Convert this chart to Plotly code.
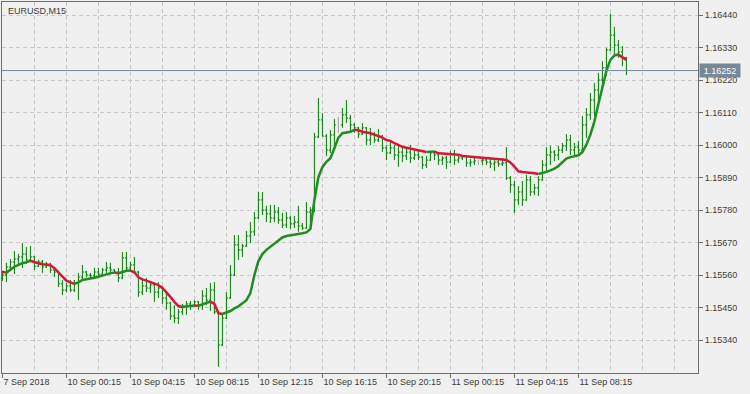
import plotly.graph_objects as go

symbol_title = "EURUSD,M15"

open_ = [1.15546, 1.15560, 1.15587, 1.15604, 1.15614, 1.15621, 1.15631, 1.15611, 1.15621, 1.15590,
         1.15604, 1.15587, 1.15597, 1.15577, 1.15570, 1.15530, 1.15509, 1.15523, 1.15509, 1.15533,
         1.15553, 1.15570, 1.15560, 1.15557, 1.15570, 1.15563, 1.15577, 1.15584, 1.15577, 1.15570,
         1.15550, 1.15618, 1.15584, 1.15594, 1.15570, 1.15502, 1.15523, 1.15516, 1.15526, 1.15502,
         1.15516, 1.15482, 1.15465, 1.15421, 1.15414, 1.15435, 1.15455, 1.15462, 1.15455, 1.15469,
         1.15458, 1.15489, 1.15475, 1.15509, 1.15435, 1.15323, 1.15414, 1.15482, 1.15560, 1.15662,
         1.15645, 1.15658, 1.15692, 1.15706, 1.15753, 1.15814, 1.15780, 1.15767, 1.15753, 1.15773,
         1.15746, 1.15729, 1.15753, 1.15733, 1.15739, 1.15726, 1.15719, 1.15773, 1.15780, 1.16027,
         1.16085, 1.16030, 1.15983, 1.16034, 1.16068, 1.16068, 1.16102, 1.16091, 1.16068, 1.16058,
         1.16037, 1.16058, 1.16017, 1.16034, 1.16017, 1.16030, 1.15990, 1.15973, 1.15990, 1.15966,
         1.15976, 1.15963, 1.15976, 1.15956, 1.15966, 1.15959, 1.15932, 1.15949, 1.15973, 1.15966,
         1.15949, 1.15956, 1.15942, 1.15970, 1.15949, 1.15956, 1.15963, 1.15939, 1.15942, 1.15946,
         1.15946, 1.15949, 1.15942, 1.15936, 1.15942, 1.15936, 1.15939, 1.15888, 1.15865, 1.15814,
         1.15841, 1.15814, 1.15882, 1.15841, 1.15855, 1.15882, 1.15932, 1.15966, 1.15976, 1.15966,
         1.15983, 1.15997, 1.16017, 1.15983, 1.15993, 1.15983, 1.16068, 1.16102, 1.16152, 1.16186,
         1.16220, 1.16261, 1.16322, 1.16372, 1.16338, 1.16315, 1.16295]

high = [1.15574, 1.15601, 1.15614, 1.15641, 1.15631, 1.15668, 1.15655, 1.15658, 1.15624, 1.15611,
        1.15611, 1.15604, 1.15601, 1.15587, 1.15574, 1.15543, 1.15533, 1.15543, 1.15543, 1.15567,
        1.15594, 1.15574, 1.15567, 1.15584, 1.15584, 1.15584, 1.15604, 1.15601, 1.15580, 1.15584,
        1.15638, 1.15638, 1.15604, 1.15621, 1.15574, 1.15543, 1.15550, 1.15540, 1.15536, 1.15536,
        1.15523, 1.15506, 1.15469, 1.15458, 1.15445, 1.15462, 1.15472, 1.15472, 1.15475, 1.15472,
        1.15509, 1.15516, 1.15533, 1.15536, 1.15438, 1.15428, 1.15502, 1.15594, 1.15695, 1.15695,
        1.15665, 1.15709, 1.15739, 1.15773, 1.15841, 1.15841, 1.15794, 1.15797, 1.15797, 1.15790,
        1.15770, 1.15773, 1.15760, 1.15760, 1.15794, 1.15736, 1.15807, 1.15790, 1.16041, 1.16159,
        1.16108, 1.16037, 1.16051, 1.16088, 1.16095, 1.16125, 1.16152, 1.16102, 1.16074, 1.16061,
        1.16074, 1.16061, 1.16058, 1.16044, 1.16054, 1.16034, 1.16000, 1.16010, 1.16000, 1.16000,
        1.15990, 1.15990, 1.16000, 1.15980, 1.15983, 1.15963, 1.15963, 1.15980, 1.15980, 1.15973,
        1.15963, 1.15963, 1.15980, 1.15983, 1.15966, 1.15966, 1.15966, 1.15953, 1.15959, 1.15949,
        1.15959, 1.15959, 1.15953, 1.15949, 1.15956, 1.15956, 1.15993, 1.15895, 1.15878, 1.15861,
        1.15878, 1.15899, 1.15895, 1.15868, 1.15895, 1.15949, 1.15993, 1.15997, 1.15983, 1.15997,
        1.16007, 1.16037, 1.16034, 1.16007, 1.16014, 1.16098, 1.16125, 1.16176, 1.16210, 1.16244,
        1.16284, 1.16328, 1.16444, 1.16400, 1.16355, 1.16335, 1.16298]

low = [1.15540, 1.15536, 1.15577, 1.15563, 1.15590, 1.15584, 1.15597, 1.15607, 1.15577, 1.15587,
       1.15567, 1.15584, 1.15567, 1.15553, 1.15519, 1.15492, 1.15502, 1.15502, 1.15502, 1.15475,
       1.15543, 1.15553, 1.15550, 1.15550, 1.15553, 1.15560, 1.15567, 1.15570, 1.15567, 1.15536,
       1.15546, 1.15570, 1.15570, 1.15567, 1.15486, 1.15492, 1.15502, 1.15499, 1.15469, 1.15482,
       1.15462, 1.15442, 1.15408, 1.15397, 1.15394, 1.15425, 1.15425, 1.15442, 1.15452, 1.15442,
       1.15442, 1.15458, 1.15438, 1.15428, 1.15249, 1.15320, 1.15411, 1.15479, 1.15557, 1.15611,
       1.15621, 1.15655, 1.15668, 1.15692, 1.15750, 1.15763, 1.15739, 1.15736, 1.15739, 1.15733,
       1.15719, 1.15719, 1.15716, 1.15719, 1.15706, 1.15712, 1.15716, 1.15712, 1.15773, 1.16024,
       1.16030, 1.15963, 1.15973, 1.15983, 1.16041, 1.16058, 1.16074, 1.16044, 1.16041, 1.16024,
       1.16034, 1.16000, 1.16000, 1.16007, 1.16010, 1.15976, 1.15949, 1.15970, 1.15949, 1.15926,
       1.15942, 1.15949, 1.15939, 1.15949, 1.15949, 1.15919, 1.15922, 1.15946, 1.15949, 1.15932,
       1.15932, 1.15919, 1.15939, 1.15932, 1.15939, 1.15949, 1.15926, 1.15926, 1.15932, 1.15932,
       1.15932, 1.15932, 1.15922, 1.15912, 1.15926, 1.15929, 1.15882, 1.15838, 1.15770, 1.15797,
       1.15794, 1.15811, 1.15827, 1.15831, 1.15827, 1.15879, 1.15912, 1.15932, 1.15946, 1.15949,
       1.15973, 1.15980, 1.15966, 1.15963, 1.15966, 1.15980, 1.16024, 1.16085, 1.16098, 1.16152,
       1.16193, 1.16234, 1.16318, 1.16301, 1.16295, 1.16267, 1.16237]

close = [1.15560, 1.15587, 1.15604, 1.15614, 1.15621, 1.15631, 1.15611, 1.15621, 1.15590, 1.15604,
         1.15587, 1.15597, 1.15577, 1.15570, 1.15530, 1.15509, 1.15523, 1.15509, 1.15533, 1.15553,
         1.15570, 1.15560, 1.15557, 1.15570, 1.15563, 1.15577, 1.15584, 1.15577, 1.15570, 1.15550,
         1.15618, 1.15584, 1.15594, 1.15570, 1.15502, 1.15523, 1.15516, 1.15526, 1.15502, 1.15516,
         1.15482, 1.15465, 1.15421, 1.15414, 1.15435, 1.15455, 1.15462, 1.15455, 1.15469, 1.15458,
         1.15489, 1.15475, 1.15509, 1.15435, 1.15323, 1.15414, 1.15482, 1.15560, 1.15662, 1.15645,
         1.15658, 1.15692, 1.15706, 1.15753, 1.15814, 1.15780, 1.15767, 1.15753, 1.15773, 1.15746,
         1.15729, 1.15753, 1.15733, 1.15739, 1.15726, 1.15719, 1.15773, 1.15780, 1.16027, 1.16085,
         1.16030, 1.15983, 1.16034, 1.16068, 1.16068, 1.16102, 1.16091, 1.16068, 1.16058, 1.16037,
         1.16058, 1.16017, 1.16034, 1.16017, 1.16030, 1.15990, 1.15973, 1.15990, 1.15966, 1.15976,
         1.15963, 1.15976, 1.15956, 1.15966, 1.15959, 1.15932, 1.15949, 1.15973, 1.15966, 1.15949,
         1.15956, 1.15942, 1.15970, 1.15949, 1.15956, 1.15963, 1.15939, 1.15942, 1.15946, 1.15946,
         1.15949, 1.15942, 1.15936, 1.15942, 1.15936, 1.15939, 1.15888, 1.15865, 1.15814, 1.15841,
         1.15814, 1.15882, 1.15841, 1.15855, 1.15882, 1.15932, 1.15966, 1.15976, 1.15966, 1.15983,
         1.15997, 1.16017, 1.15983, 1.15993, 1.15983, 1.16068, 1.16102, 1.16152, 1.16186, 1.16220,
         1.16261, 1.16322, 1.16372, 1.16338, 1.16315, 1.16295, 1.16252]

ma = [1.15571, 1.15568, 1.15579, 1.15588, 1.15594, 1.15600, 1.15603, 1.15608, 1.15603, 1.15600,
      1.15596, 1.15595, 1.15593, 1.15583, 1.15568, 1.15554, 1.15541, 1.15535, 1.15530, 1.15535,
      1.15543, 1.15545, 1.15547, 1.15551, 1.15554, 1.15557, 1.15562, 1.15566, 1.15568, 1.15566,
      1.15571, 1.15574, 1.15575, 1.15569, 1.15552, 1.15545, 1.15541, 1.15536, 1.15532, 1.15526,
      1.15516, 1.15502, 1.15486, 1.15469, 1.15455, 1.15452, 1.15453, 1.15455, 1.15457, 1.15456,
      1.15460, 1.15465, 1.15470, 1.15462, 1.15431, 1.15428, 1.15432, 1.15438, 1.15447, 1.15454,
      1.15464, 1.15475, 1.15499, 1.15560, 1.15607, 1.15631, 1.15645, 1.15655, 1.15667, 1.15678,
      1.15687, 1.15692, 1.15695, 1.15697, 1.15699, 1.15701, 1.15704, 1.15716, 1.15814, 1.15891,
      1.15925, 1.15943, 1.15955, 1.15989, 1.16025, 1.16040, 1.16043, 1.16045, 1.16051, 1.16050,
      1.16045, 1.16043, 1.16040, 1.16035, 1.16030, 1.16025, 1.16017, 1.16014, 1.16006, 1.15999,
      1.15994, 1.15991, 1.15988, 1.15983, 1.15981, 1.15979, 1.15976, 1.15977, 1.15978, 1.15972,
      1.15971, 1.15970, 1.15969, 1.15968, 1.15967, 1.15963, 1.15962, 1.15961, 1.15959, 1.15958,
      1.15957, 1.15956, 1.15955, 1.15953, 1.15952, 1.15951, 1.15949, 1.15941, 1.15927, 1.15911,
      1.15909, 1.15908, 1.15905, 1.15904, 1.15902, 1.15905, 1.15909, 1.15914, 1.15920, 1.15929,
      1.15942, 1.15954, 1.15959, 1.15962, 1.15965, 1.15976, 1.16001, 1.16035, 1.16080, 1.16139,
      1.16193, 1.16251, 1.16288, 1.16303, 1.16306, 1.16298, 1.16288]

x_tick_labels = ["7 Sep 2018", "10 Sep 00:15", "10 Sep 04:15", "10 Sep 08:15", "10 Sep 12:15",
                 "10 Sep 16:15", "10 Sep 20:15", "11 Sep 00:15", "11 Sep 04:15", "11 Sep 08:15"]
y_tick_values = [1.15340, 1.15450, 1.15560, 1.15670, 1.15780, 1.15890,
                 1.16000, 1.16110, 1.16220, 1.16330, 1.16440]

# ---- styling ----
BG = "#F0F0F0"
GRID = "#C8C8C8"
FRAME = "#6E6E6E"
TXT = "#3C3C3C"
BAR_GREEN = "#008000"
DOJI = "#A0A0A0"
MA_UP = "#228B22"
MA_DN = "#DC143C"
PRICE_LINE = "#778899"
FONT = "Liberation Sans, Arial, sans-serif"

n = len(close)
idx = list(range(n))

fig = go.Figure()

normal = [i for i in idx if open_[i] != close[i]]
doji = [i for i in idx if open_[i] == close[i]]

def ohlc_trace(ids, color):
    diffs = [b - a for a, b in zip(ids, ids[1:])] or [1]
    tw = min(0.45, 0.4 / min(diffs))
    return go.Ohlc(
        x=ids,
        open=[open_[i] for i in ids], high=[high[i] for i in ids],
        low=[low[i] for i in ids], close=[close[i] for i in ids],
        increasing=dict(line=dict(color=color, width=1)),
        decreasing=dict(line=dict(color=color, width=1)),
        tickwidth=tw, hoverinfo="skip", showlegend=False,
    )

fig.add_trace(ohlc_trace(normal, BAR_GREEN))
if doji:
    fig.add_trace(ohlc_trace(doji, DOJI))

# MA coloured by direction, merged into runs
runs = []
for i in range(1, n):
    up = ma[i] >= ma[i - 1]
    if runs and runs[-1][0] == up:
        runs[-1][1].append(i)
    else:
        runs.append([up, [i - 1, i]])
for up, pts in runs:
    fig.add_trace(go.Scatter(
        x=pts, y=[ma[i] for i in pts], mode="lines",
        line=dict(color=MA_UP if up else MA_DN, width=2.5),
        hoverinfo="skip", showlegend=False,
    ))

last = close[-1]
fig.add_shape(type="line", xref="paper", x0=0, x1=1, yref="y", y0=last, y1=last,
              line=dict(color=PRICE_LINE, width=1), layer="above")
fig.add_annotation(xref="paper", x=1, yref="y", y=last, xanchor="left", yanchor="middle",
                   xshift=1, text=f"{last:.5f}", showarrow=False, bgcolor=PRICE_LINE,
                   font=dict(family=FONT, size=9, color="white"), width=38, height=11,
                   borderpad=1)
fig.add_annotation(xref="paper", yref="paper", x=0, y=1, xanchor="left", yanchor="top",
                   xshift=4, yshift=-2, text=symbol_title, showarrow=False,
                   font=dict(family=FONT, size=9, color=TXT))

major = list(range(0, n, 16))[:len(x_tick_labels)]
minor = [v for v in range(8, 175, 8) if v not in major]

fig.update_layout(
    width=750, height=394,
    margin=dict(l=2, r=52, t=2, b=21),
    paper_bgcolor=BG, plot_bgcolor=BG,
    showlegend=False, hovermode=False,
    xaxis=dict(
        range=[-0.1, 173.9], rangeslider=dict(visible=False),
        tickmode="array", tickvals=major, ticktext=x_tick_labels,
        ticks="outside", ticklen=4, tickcolor=FRAME, tickwidth=1,
        ticklabelposition="outside right",
        tickfont=dict(family=FONT, size=9, color=TXT),
        showgrid=True, gridcolor=GRID, griddash="4px,3px", gridwidth=1,
        minor=dict(tickvals=minor, showgrid=True, gridcolor=GRID, griddash="4px,3px",
                   gridwidth=1, ticks=""),
        showline=True, linecolor=FRAME, linewidth=1, mirror=True, zeroline=False,
    ),
    yaxis=dict(
        side="right", range=[1.152283, 1.16484],
        tickmode="array", tickvals=y_tick_values,
        ticktext=[f"{v:.5f}" for v in y_tick_values],
        ticks="outside", ticklen=4, tickcolor=FRAME, tickwidth=1,
        tickfont=dict(family=FONT, size=9, color=TXT),
        showgrid=True, gridcolor=GRID, griddash="4px,3px", gridwidth=1,
        showline=True, linecolor=FRAME, linewidth=1, mirror=True, zeroline=False,
    ),
)

fig.write_html("out.html", config={"displayModeBar": False},
               post_script="document.body.style.margin='0';document.body.style.background='#F0F0F0';")
